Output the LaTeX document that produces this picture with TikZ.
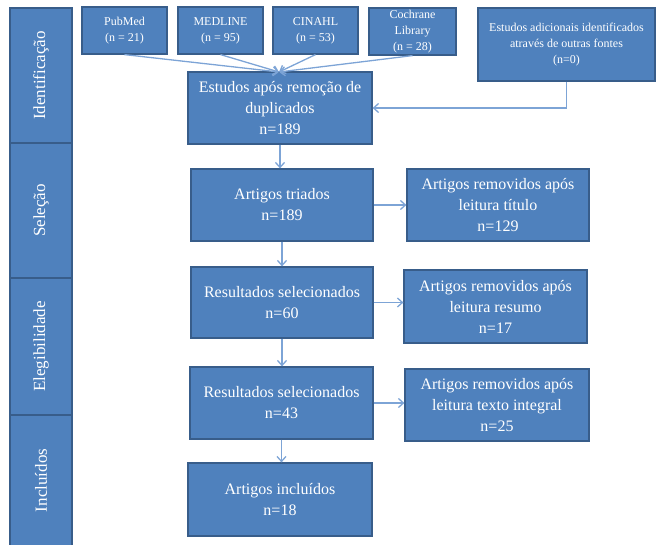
\documentclass[tikz,border=0pt]{standalone}
\usepackage{fontspec}
\setmainfont{Liberation Serif}
\usepackage{tikz}
\usetikzlibrary{arrows.meta}
\definecolor{boxFill}{RGB}{79,129,189}
\definecolor{boxLine}{RGB}{56,93,138}
\definecolor{arrowLine}{RGB}{125,164,214}
\tikzset{
  flowBox/.style={draw=boxLine, fill=boxFill, line width=1.2pt, text=white, align=center, inner sep=0pt},
  bigBox/.style={flowBox, minimum width=183pt, minimum height=72pt, font=\fontsize{16}{21}\selectfont},
  srcBox/.style={flowBox, minimum width=85pt, minimum height=47pt, font=\fontsize{12}{16}\selectfont},
  stageBox/.style={flowBox, minimum height=62pt, rotate=90, font=\fontsize{17}{20}\selectfont},
  flowArrow/.style={draw=arrowLine, line width=1.3pt, -{Straight Barb[length=5pt,width=9pt]}}
}

\begin{document}
\begin{tikzpicture}[x=1pt, y=-1pt]
\useasboundingbox (0,0) rectangle (656,545);
% stages
\node[stageBox, minimum width=135pt] (stId) at (41,75.5) {Identificação};
\node[stageBox, minimum width=135pt] (stSel) at (41,210.5) {Seleção};
\node[stageBox, minimum width=137pt] (stEle) at (41,346.5) {Elegibilidade};
\node[stageBox, minimum width=131pt] (stInc) at (41,480.5) {Incluídos};
% sources
\node[srcBox] (pubmed) at (124.5,30.5) {PubMed\\(n = 21)};
\node[srcBox] (medline) at (220.5,30.5) {MEDLINE\\(n = 95)};
\node[srcBox] (cinahl) at (315.5,30.5) {CINAHL\\(n = 53)};
\node[srcBox, minimum width=87pt] (cochrane) at (412.5,31.5) {Cochrane\\Library\\(n = 28)};
\node[srcBox, minimum width=177pt, minimum height=73pt] (extra) at (566.5,44.5) {Estudos adicionais identificados\\através de outras fontes\\(n=0)};
% main column
\node[bigBox, minimum width=184pt] (dup) at (280,108) {Estudos após remoção de\\duplicados\\n=189};
\node[bigBox, minimum width=182pt] (triados) at (282,205) {Artigos triados\\n=189};
\node[bigBox, minimum width=182pt, minimum height=71pt] (sel1) at (282,302.5) {Resultados selecionados\\n=60};
\node[bigBox] (sel2) at (281.5,403) {Resultados selecionados\\n=43};
\node[bigBox, minimum width=184pt, minimum height=73pt] (incl) at (280,499.5) {Artigos incluídos\\n=18};
% removed
\node[bigBox, minimum width=182pt] (rem1) at (498,205) {Artigos removidos após\\leitura título\\n=129};
\node[bigBox, minimum height=73pt] (rem2) at (495.5,306.5) {Artigos removidos após\\leitura resumo\\n=17};
\node[bigBox, minimum width=184pt] (rem3) at (497,405) {Artigos removidos após\\leitura texto integral\\n=25};
% arrows
\coordinate (join) at (279,72);
\foreach \src in {pubmed,medline,cinahl,cochrane}
  \draw[flowArrow] (\src.south) -- (join);
\draw[flowArrow] (extra.south) |- (dup.east);
\draw[flowArrow] (dup.south) -- (dup.south |- triados.north);
\draw[flowArrow] (triados.south) -- (triados.south |- sel1.north);
\draw[flowArrow] (sel1.south) -- (sel1.south |- sel2.north);
\draw[flowArrow] (sel2.south) -- (sel2.south |- incl.north);
\draw[flowArrow] (triados.east) -- (triados.east -| rem1.west);
\draw[flowArrow] (sel1.east) -- (sel1.east -| rem2.west);
\draw[flowArrow] (sel2.east) -- (sel2.east -| rem3.west);
\end{tikzpicture}
\end{document}
